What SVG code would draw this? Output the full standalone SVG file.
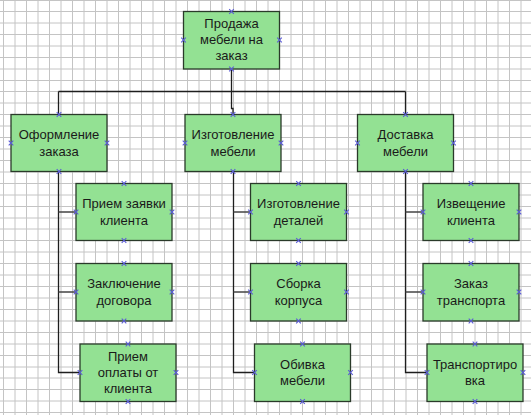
<svg xmlns="http://www.w3.org/2000/svg" xmlns:xlink="http://www.w3.org/1999/xlink" width="531" height="415" viewBox="0 0 531 415">
<style>
.grid{stroke:#c4c4c4;stroke-width:1;fill:none}
.node rect{fill:#93e193;stroke:#2a3a2a;stroke-width:1.3}
.node text{font-family:"Liberation Sans",Arial,sans-serif;font-size:13px;fill:#1a1a1a;text-anchor:middle}
.conn{stroke:#1e1e1e;stroke-width:1.3;fill:none}
.stub{stroke:#444;stroke-width:1.6;fill:none}
</style>
<defs>
<path id="xm" d="M-2.3,-2.3 L2.3,2.3 M-2.3,2.3 L2.3,-2.3" stroke="#5b5bd6" stroke-width="1.1" fill="none"/>
</defs>
<rect width="531" height="415" fill="#ffffff"/>
<path class="grid" d="M3.5,0V415M15,0V415M26.5,0V415M38,0V415M49.5,0V415M61,0V415M72.5,0V415M84,0V415M95.5,0V415M107,0V415M118.5,0V415M130,0V415M141.5,0V415M153,0V415M164.5,0V415M176,0V415M187.5,0V415M199,0V415M210.5,0V415M222,0V415M233.5,0V415M245,0V415M256.5,0V415M268,0V415M279.5,0V415M291,0V415M302.5,0V415M314,0V415M325.5,0V415M337,0V415M348.5,0V415M360,0V415M371.5,0V415M383,0V415M394.5,0V415M406,0V415M417.5,0V415M429,0V415M440.5,0V415M452,0V415M463.5,0V415M475,0V415M486.5,0V415M498,0V415M509.5,0V415M521,0V415
M0,0.5H531M0,11.5H531M0,23H531M0,34.5H531M0,46H531M0,57.5H531M0,69H531M0,80.5H531M0,91.5H531M0,103H531M0,114.5H531M0,126H531M0,137.5H531M0,149H531M0,160.5H531M0,172H531M0,183.5H531M0,195H531M0,206.5H531M0,218H531M0,229H531M0,240.5H531M0,252H531M0,263.5H531M0,275H531M0,286.5H531M0,298H531M0,309.5H531M0,321H531M0,332.5H531M0,344H531M0,355.5H531M0,367H531M0,378H531M0,389.5H531M0,401H531M0,412.5H531"/>
<g id="connectors">
<path class="conn" d="M231.5,69V91.5M58.5,91.5H405.5M58.5,91.5V114.5M231.5,91.5V108.5H233V114.5M405.5,91.5V114.5"/>
<path class="conn" d="M58.5,172V372.5H80M233.5,172V372.5H254.5M405.5,172V372.5H427"/>
<path class="stub" d="M58.5,212H76M58.5,292H76M233.5,212H250.5M233.5,292H250.5M405.5,212H423M405.5,292H423"/>
</g>
<g id="n0" class="node"><rect x="183.5" y="11.5" width="96" height="57.5"/><text x="231.5" y="27.5">Продажа</text><text x="231.5" y="43.5">мебели на</text><text x="231.5" y="59.5">заказ</text></g>
<g id="n1" class="node"><rect x="11" y="114.5" width="96" height="57"/><text x="59" y="139">Оформление</text><text x="59" y="155.5">заказа</text></g>
<g id="n2" class="node"><rect x="185" y="114.5" width="96" height="57"/><text x="233" y="139">Изготовление</text><text x="233" y="155.5">мебели</text></g>
<g id="n3" class="node"><rect x="357.5" y="114.5" width="96" height="57"/><text x="405.5" y="139">Доставка</text><text x="405.5" y="155.5">мебели</text></g>
<g id="n1a" class="node"><rect x="76" y="183.5" width="96" height="57"/><text x="124" y="208">Прием заявки</text><text x="124" y="224.5">клиента</text></g>
<g id="n1b" class="node"><rect x="76" y="263.5" width="96" height="57.5"/><text x="124" y="288">Заключение</text><text x="124" y="304.5">договора</text></g>
<g id="n1c" class="node"><rect x="80" y="344" width="96" height="57.5"/><text x="128" y="360.5">Прием</text><text x="128" y="376.5">оплаты от</text><text x="128" y="392.5">клиента</text></g>
<g id="n2a" class="node"><rect x="250.5" y="183.5" width="96" height="57"/><text x="298.5" y="208">Изготовление</text><text x="298.5" y="224.5">деталей</text></g>
<g id="n2b" class="node"><rect x="250.5" y="263.5" width="96" height="57.5"/><text x="298.5" y="288">Сборка</text><text x="298.5" y="304.5">корпуса</text></g>
<g id="n2c" class="node"><rect x="254.5" y="344" width="96" height="57.5"/><text x="302.5" y="368.5">Обивка</text><text x="302.5" y="385">мебели</text></g>
<g id="n3a" class="node"><rect x="423" y="183.5" width="96" height="57"/><text x="471" y="208">Извещение</text><text x="471" y="224.5">клиента</text></g>
<g id="n3b" class="node"><rect x="423" y="263.5" width="96" height="57.5"/><text x="471" y="288">Заказ</text><text x="471" y="304.5">транспорта</text></g>
<g id="n3c" class="node"><rect x="427" y="344" width="96" height="57.5"/><text x="475" y="368.5">Транспортиро</text><text x="475" y="385">вка</text></g>
<g id="markers">
<use xlink:href="#xm" x="231.5" y="11.5"/><use xlink:href="#xm" x="231.5" y="69"/><use xlink:href="#xm" x="183.5" y="40"/><use xlink:href="#xm" x="279.5" y="40"/>
<use xlink:href="#xm" x="59" y="114.5"/><use xlink:href="#xm" x="59" y="171.5"/><use xlink:href="#xm" x="11" y="143"/><use xlink:href="#xm" x="107" y="143"/>
<use xlink:href="#xm" x="233" y="114.5"/><use xlink:href="#xm" x="233" y="171.5"/><use xlink:href="#xm" x="185" y="143"/><use xlink:href="#xm" x="281" y="143"/>
<use xlink:href="#xm" x="405.5" y="114.5"/><use xlink:href="#xm" x="405.5" y="171.5"/><use xlink:href="#xm" x="357.5" y="143"/><use xlink:href="#xm" x="453.5" y="143"/>
<use xlink:href="#xm" x="124" y="183.5"/><use xlink:href="#xm" x="124" y="240.5"/><use xlink:href="#xm" x="76" y="212"/><use xlink:href="#xm" x="172" y="212"/>
<use xlink:href="#xm" x="124" y="263.5"/><use xlink:href="#xm" x="124" y="321"/><use xlink:href="#xm" x="76" y="292"/><use xlink:href="#xm" x="172" y="292"/>
<use xlink:href="#xm" x="128" y="344"/><use xlink:href="#xm" x="128" y="401.5"/><use xlink:href="#xm" x="80" y="372.5"/><use xlink:href="#xm" x="176" y="372.5"/>
<use xlink:href="#xm" x="298.5" y="183.5"/><use xlink:href="#xm" x="298.5" y="240.5"/><use xlink:href="#xm" x="250.5" y="212"/><use xlink:href="#xm" x="346.5" y="212"/>
<use xlink:href="#xm" x="298.5" y="263.5"/><use xlink:href="#xm" x="298.5" y="321"/><use xlink:href="#xm" x="250.5" y="292"/><use xlink:href="#xm" x="346.5" y="292"/>
<use xlink:href="#xm" x="302.5" y="344"/><use xlink:href="#xm" x="302.5" y="401.5"/><use xlink:href="#xm" x="254.5" y="372.5"/><use xlink:href="#xm" x="350.5" y="372.5"/>
<use xlink:href="#xm" x="471" y="183.5"/><use xlink:href="#xm" x="471" y="240.5"/><use xlink:href="#xm" x="423" y="212"/><use xlink:href="#xm" x="519" y="212"/>
<use xlink:href="#xm" x="471" y="263.5"/><use xlink:href="#xm" x="471" y="321"/><use xlink:href="#xm" x="423" y="292"/><use xlink:href="#xm" x="519" y="292"/>
<use xlink:href="#xm" x="475" y="344"/><use xlink:href="#xm" x="475" y="401.5"/><use xlink:href="#xm" x="427" y="372.5"/><use xlink:href="#xm" x="523" y="372.5"/>
</g>
</svg>
